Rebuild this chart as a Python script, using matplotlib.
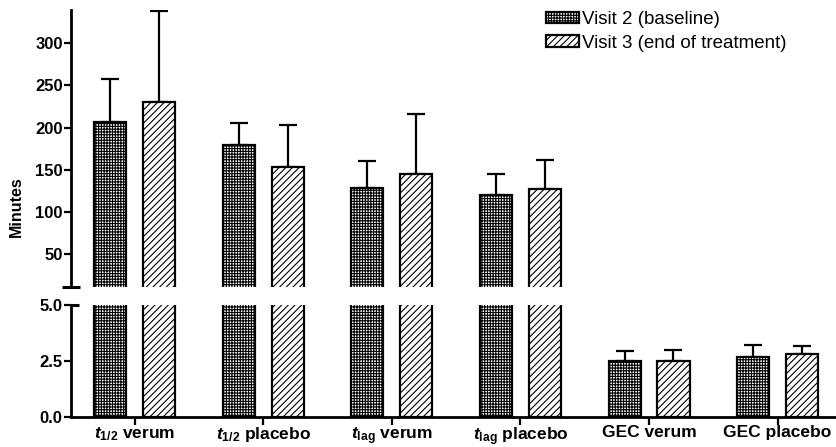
import matplotlib
matplotlib.use("Agg")
import matplotlib.pyplot as plt
import numpy as np

# ---- data ----
categories = [r"$\mathbfit{t}_{\mathbf{1/2}}$ verum",
              r"$\mathbfit{t}_{\mathbf{1/2}}$ placebo",
              r"$\mathbfit{t}_{\mathbf{lag}}$ verum",
              r"$\mathbfit{t}_{\mathbf{lag}}$ placebo",
              "GEC verum", "GEC placebo"]
visit2 = [207, 179, 128.5, 120, 2.51, 2.66]
visit2_err = [51, 27, 31.5, 25, 0.43, 0.55]
visit3 = [230, 153, 145, 127, 2.49, 2.79]
visit3_err = [108, 50, 71.5, 34, 0.50, 0.36]
series_labels = ["Visit 2 (baseline)", "Visit 3 (end of treatment)"]
top_ticks = [50, 100, 150, 200, 250, 300]
bottom_ticks = [0.0, 2.5, 5.0]

plt.rcParams['font.family'] = ['Liberation Sans', 'DejaVu Sans']
plt.rcParams['mathtext.fontset'] = 'custom'
plt.rcParams['mathtext.rm'] = 'Liberation Sans'
plt.rcParams['mathtext.bf'] = 'Liberation Sans:bold'
plt.rcParams['mathtext.it'] = 'Liberation Sans:italic'
plt.rcParams['mathtext.bfit'] = 'Liberation Sans:bold:italic'
plt.rcParams['hatch.linewidth'] = 0.8
plt.rcParams['hatch.color'] = 'black'

W, H = 836, 447
fig = plt.figure(figsize=(W / 100, H / 100), dpi=100)

left = 71 / W
width = (W - 71) / W
ax_top = fig.add_axes([left, (H - 287) / H, width, (287 - 10) / H])
ax_bot = fig.add_axes([left, (H - 416.7) / H, width, (416.7 - 305) / H])

x = np.arange(len(categories))
bw = 0.25
off = 0.19
lw = 1.6

handles = []
for ax in (ax_top, ax_bot):
    b1 = ax.bar(x - off, visit2, bw, color='white', edgecolor='black',
                hatch='++++++', linewidth=lw, zorder=2)
    b2 = ax.bar(x + off, visit3, bw, color='white', edgecolor='black',
                hatch='/////', linewidth=lw, zorder=2)
    ax.errorbar(x - off, visit2, yerr=[np.zeros(len(x)), visit2_err], fmt='none',
                ecolor='black', elinewidth=1.6, capsize=6.5, capthick=1.6, zorder=1)
    ax.errorbar(x + off, visit3, yerr=[np.zeros(len(x)), visit3_err], fmt='none',
                ecolor='black', elinewidth=1.6, capsize=6.5, capthick=1.6, zorder=1)
    ax.set_xlim(-0.495, 5.454)
    for s in ('top', 'right'):
        ax.spines[s].set_visible(False)
    ax.spines['left'].set_linewidth(2)
    ax.spines['bottom'].set_linewidth(2)
    ax.tick_params(axis='y', width=1.6, length=5, labelsize=12, pad=1)
    if ax is ax_top:
        handles = [b1, b2]

ax_top.set_ylim(10.8, 339.6)
ax_top.set_yticks(top_ticks)
ax_top.set_yticklabels([str(t) for t in top_ticks], fontweight='bold')
ax_top.spines['bottom'].set_visible(False)
ax_top.tick_params(axis='x', bottom=False, labelbottom=False)

ax_bot.set_ylim(0, 5)
ax_bot.set_yticks(bottom_ticks)
ax_bot.set_yticklabels([f"{t:.1f}" for t in bottom_ticks], fontweight='bold')
ax_bot.set_xticks(x)
ax_bot.set_xticklabels(categories, fontweight='bold', fontsize=12.5)
ax_bot.tick_params(axis='x', width=1.6, length=6, pad=0)

# break caps
ax_top.plot([-0.012, 0.012], [0, 0], transform=ax_top.transAxes, color='black',
            lw=2.2, clip_on=False, solid_capstyle='butt')
ax_bot.plot([0, 0.010], [1, 1], transform=ax_bot.transAxes, color='black',
            lw=2.2, clip_on=False, solid_capstyle='butt')

fig.text(16 / W, (H - 207) / H, "Minutes", rotation=90, fontsize=11.5,
         fontweight='bold', ha='center', va='center')

fig.legend(handles, series_labels, loc='upper left',
           bbox_to_anchor=(546 / W, (H - 11) / H), frameon=False, fontsize=13.5,
           handlelength=1.75, handleheight=0.55, handletextpad=0.15,
           labelspacing=0.35, borderpad=0, borderaxespad=0)

fig.savefig("out.png", dpi=100)
